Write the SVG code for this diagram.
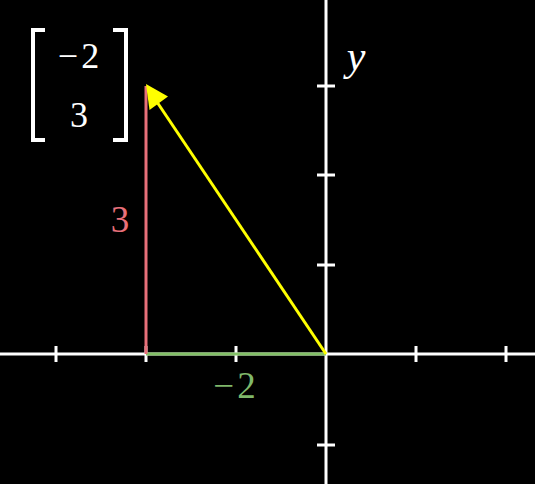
<svg xmlns="http://www.w3.org/2000/svg" width="535" height="484" viewBox="0 0 535 484">
<style>
.axis{stroke:#ffffff;stroke-width:3;fill:none}
.tick{stroke:#ffffff;stroke-width:3}
.tex{font-family:"Liberation Serif","DejaVu Serif",serif;text-anchor:middle}
</style>
<rect width="535" height="484" fill="#000000"/>
<g id="axes">
<line class="axis" x1="0" y1="354" x2="535" y2="354"/>
<line class="axis" x1="326" y1="0" x2="326" y2="484"/>
<g id="x-ticks">
<line class="tick" x1="56" y1="346" x2="56" y2="362"/>
<line class="tick" x1="146" y1="346" x2="146" y2="362"/>
<line class="tick" x1="236" y1="346" x2="236" y2="362"/>
<line class="tick" x1="416" y1="346" x2="416" y2="362"/>
<line class="tick" x1="506" y1="346" x2="506" y2="362"/>
</g>
<g id="y-ticks">
<line class="tick" x1="317" y1="86" x2="335" y2="86"/>
<line class="tick" x1="317" y1="175" x2="335" y2="175"/>
<line class="tick" x1="317" y1="265" x2="335" y2="265"/>
<line class="tick" x1="317" y1="445" x2="335" y2="445"/>
</g>
<text class="tex" x="356" y="70" font-size="42" font-style="italic" fill="#ffffff">y</text>
</g>
<g id="connectors">
<line id="x-component" x1="146" y1="354" x2="326" y2="354" stroke="#83c167" stroke-width="3"/>
<line id="y-component" x1="146" y1="354" x2="146" y2="86" stroke="#e8707a" stroke-width="3"/>
<g id="vector">
<line x1="326" y1="354" x2="157" y2="102" stroke="#ffff00" stroke-width="3"/>
<polygon points="146,84 168,96.5 149.5,110" fill="#ffff00"/>
</g>
</g>
<g id="label-y">
<text class="tex" x="120" y="232" font-size="37" fill="#e8707a">3</text>
</g>
<g id="label-x">
<text class="tex" x="236" y="398" font-size="37" fill="#7fb86a" letter-spacing="3">−2</text>
</g>
<g id="matrix">
<path d="M45,30 H33 V140 H45 M113,30 H126 V140 H113" fill="none" stroke="#ffffff" stroke-width="4"/>
<text class="tex" x="80" y="68" font-size="36" fill="#ffffff" letter-spacing="3">−2</text>
<text class="tex" x="79" y="127" font-size="36" fill="#ffffff">3</text>
</g>
</svg>
